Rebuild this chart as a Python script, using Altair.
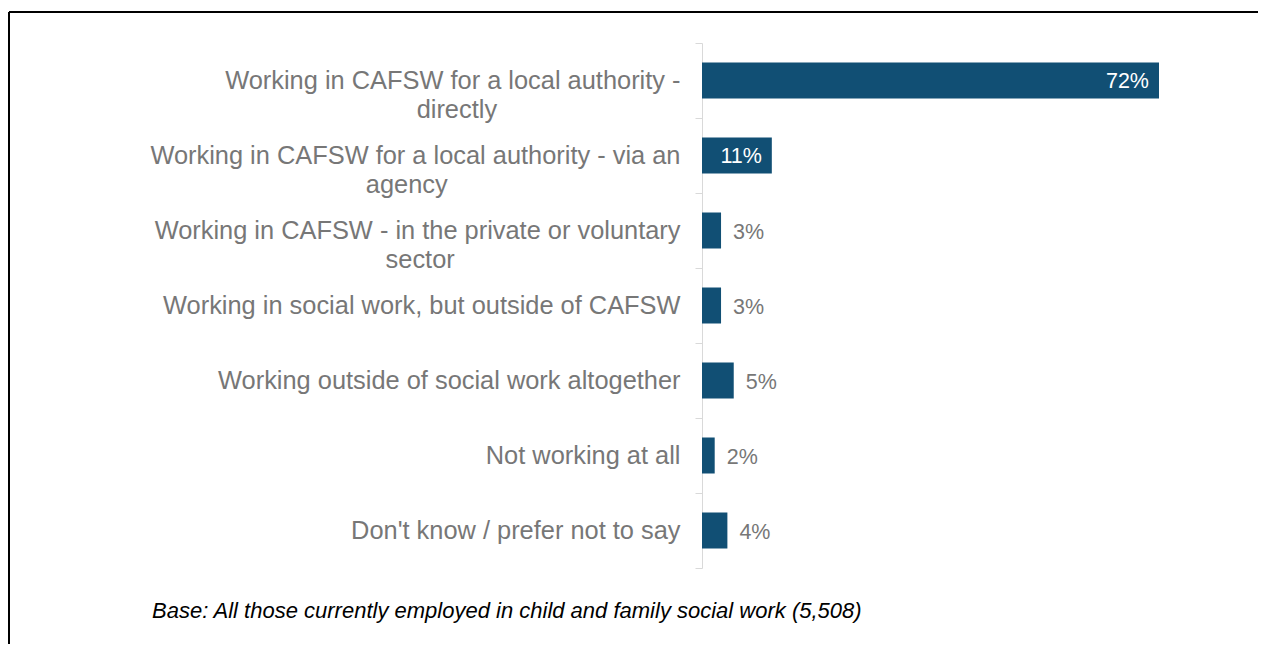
import altair as alt
import pandas as pd

categories = [
    "Working in CAFSW for a local authority -|directly",
    "Working in CAFSW for a local authority - via an|agency",
    "Working in CAFSW - in the private or voluntary|sector",
    "Working in social work, but outside of CAFSW",
    "Working outside of social work altogether",
    "Not working at all",
    "Don't know / prefer not to say",
]
values = [72, 11, 3, 3, 5, 2, 4]
footnote = "Base: All those currently employed in child and family social work (5,508)"

df = pd.DataFrame({"cat": categories, "val": values})

BAR = "#114f74"
GREY = "#777777"
FONT = "Liberation Sans"

first = "split(datum.label,'|')[0]"
second = "split(datum.label,'|')[1]"
# second line is centred under the first by padding it with no-break spaces,
# closed by a zero-width space so that the padding is not trimmed away
label_expr = (
    f"length(split(datum.label,'|')) > 1 ? "
    f"[{first}, pad({second}, length({second}) + "
    f"round((length({first}) - length({second})) * 0.8), '\u00a0') + '\u200b'] "
    f": datum.label"
)

y_enc = alt.Y(
    "cat:N",
    sort=categories,
    title=None,
    scale=alt.Scale(paddingInner=0, paddingOuter=0),
    axis=alt.Axis(
        domainColor="#d9d9d9",
        tickColor="#d9d9d9",
        tickSize=7,
        tickBand="extent",
        labelPadding=15,
        labelFont=FONT,
        labelFontSize=25.4,
        labelColor=GREY,
        labelLineHeight=29,
        labelLimit=0,
        labelExpr=label_expr,
    ),
)
x_enc = alt.X("val:Q", scale=alt.Scale(domain=[0, 72], nice=False), axis=None)

base = alt.Chart(df)

bars = base.mark_bar(color=BAR, size=36).encode(y=y_enc, x=x_enc)

inside = base.transform_filter("datum.val >= 10").transform_calculate(
    label="datum.val + '%'"
).mark_text(
    align="right", baseline="middle", dx=-10, dy=1, font=FONT, fontSize=21.5, color="white"
).encode(y=alt.Y("cat:N", sort=categories), x="val:Q", text=alt.Text("label:N"))

outside = base.transform_filter("datum.val < 10").transform_calculate(
    label="datum.val + '%'"
).mark_text(
    align="left", baseline="middle", dx=12, dy=2, font=FONT, fontSize=21.5, color=GREY
).encode(y=alt.Y("cat:N", sort=categories), x="val:Q", text=alt.Text("label:N"))

note = alt.Chart(pd.DataFrame({"t": [footnote]})).mark_text(
    align="left", baseline="alphabetic", font=FONT, fontSize=22, fontStyle="italic", color="black"
).encode(text="t:N", x=alt.value(-550), y=alt.value(575))

frame_df = pd.DataFrame({"k": [0]})
top_line = alt.Chart(frame_df).mark_rule(color="black", strokeWidth=2).encode(
    x=alt.value(-693), x2=alt.value(556), y=alt.value(-31)
)
left_line = alt.Chart(frame_df).mark_rule(color="black", strokeWidth=2).encode(
    x=alt.value(-693), y=alt.value(-31), y2=alt.value(610)
)

chart = alt.layer(bars, inside, outside, note, top_line, left_line).properties(
    width=457,
    height=525,
    autosize=alt.AutoSizeParams(type="none"),
    padding={"left": 694, "top": 35, "right": 99, "bottom": 76},
).configure(background="white").configure_view(strokeWidth=0)

chart.save("out.html", embed_options={"renderer": "svg", "actions": False})
